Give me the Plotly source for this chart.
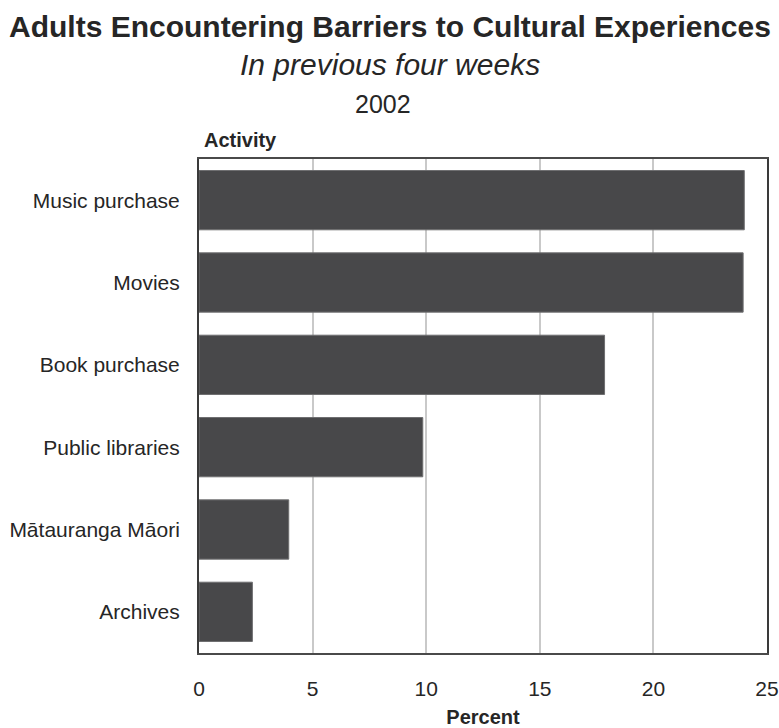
import plotly.graph_objects as go

# Share of adults who hit barriers, by cultural activity (2002)
activities = ["Music purchase", "Movies", "Book purchase",
              "Public libraries", "Mātauranga Māori", "Archives"]
percent = [24.0, 23.95, 17.85, 9.85, 3.95, 2.35]
x_ticks = [0, 5, 10, 15, 20, 25]

FONT = "Liberation Sans, Arial, Helvetica, sans-serif"
TEXT = "#262626"

fig = go.Figure(
    go.Bar(
        x=percent,
        y=activities,
        orientation="h",
        marker=dict(color="#48484a", line=dict(color="#6e6e70", width=1)),
        hoverinfo="x+y",
    )
)

fig.update_layout(
    width=779,
    height=728,
    margin=dict(l=199, r=12, t=159, b=75),
    paper_bgcolor="white",
    plot_bgcolor="white",
    bargap=0.28,
    showlegend=False,
    font=dict(family=FONT, color=TEXT, size=21),
    annotations=[
        dict(text="<b>Adults Encountering Barriers to Cultural Experiences</b>",
             xref="paper", yref="paper", x=0.336, y=1.268,
             xanchor="center", yanchor="middle", showarrow=False,
             font=dict(size=30, color=TEXT)),
        dict(text="<i>In previous four weeks</i>",
             xref="paper", yref="paper", x=0.337, y=1.192,
             xanchor="center", yanchor="middle", showarrow=False,
             font=dict(size=30, color=TEXT)),
        dict(text="2002",
             xref="paper", yref="paper", x=0.324, y=1.111,
             xanchor="center", yanchor="middle", showarrow=False,
             font=dict(size=25, color=TEXT)),
        dict(text="<b>Activity</b>",
             xref="paper", yref="paper", x=0.005, y=1.038,
             xanchor="left", yanchor="middle", showarrow=False,
             font=dict(size=20, color=TEXT)),
    ],
)

fig.update_xaxes(
    automargin=False,
    range=[0, 25],
    tickvals=x_ticks,
    ticktext=[str(v) for v in x_ticks],
    tickfont=dict(size=21, color=TEXT),
    ticks="",
    ticklabelstandoff=16,
    showgrid=True,
    gridcolor="#c9c9c9",
    gridwidth=1.5,
    zeroline=False,
    showline=True,
    linecolor="#4a4a4a",
    linewidth=1.5,
    mirror=True,
    title=dict(text="<b>Percent</b>", font=dict(size=20, color=TEXT), standoff=24),
)

fig.update_yaxes(
    automargin=False,
    autorange="reversed",
    tickfont=dict(size=21, color=TEXT),
    ticks="",
    ticklabelstandoff=13,
    showgrid=False,
    zeroline=False,
    showline=True,
    linecolor="#3a3a3a",
    linewidth=2,
    mirror=True,
)

fig.write_html("out.html")
